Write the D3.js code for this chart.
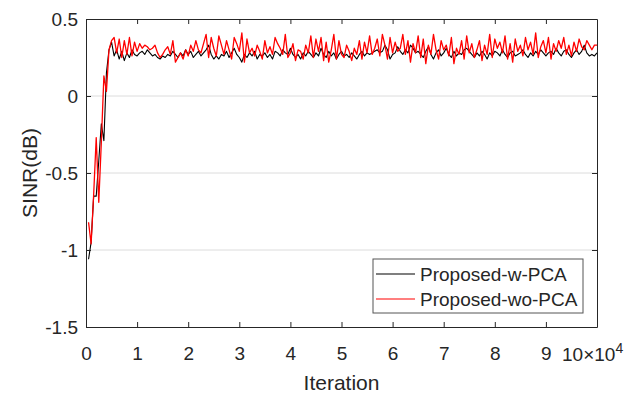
<!DOCTYPE html>
<html>
<head>
<meta charset="utf-8">
<script src="https://cdn.jsdelivr.net/npm/d3@7"></script>
<style>
  body { margin: 0; background: #fff; }
  svg text { font-family: "Liberation Sans", Arial, Helvetica, sans-serif; fill: #262626; }
</style>
</head>
<body>
<div id="chart"></div>
<script>
// sample spacing (iterations between points)
var iterStep = 500;

// SINR (dB) with PCA
var wPCA = [
    -1.06, -0.95, -0.65, -0.65, -0.42, -0.18, -0.29, 0.15, 0.30, 0.35, 0.26,
    0.30, 0.24, 0.29, 0.23, 0.28, 0.25, 0.30, 0.27, 0.26,
    0.28, 0.29, 0.27, 0.30, 0.28, 0.26, 0.27, 0.25, 0.24, 0.26,
    0.25, 0.27, 0.26, 0.29, 0.27, 0.25, 0.28, 0.26, 0.30, 0.27,
    0.29, 0.25, 0.27, 0.29, 0.26, 0.28, 0.30, 0.33, 0.27, 0.24,
    0.26, 0.24, 0.27, 0.26, 0.29, 0.25, 0.28, 0.31, 0.27, 0.25,
    0.22, 0.27, 0.25, 0.28, 0.26, 0.29, 0.24, 0.27, 0.26, 0.28,
    0.25, 0.27, 0.24, 0.29, 0.28, 0.26, 0.30, 0.28, 0.27, 0.31,
    0.27, 0.25, 0.27, 0.24, 0.28, 0.26, 0.29, 0.27, 0.25, 0.28,
    0.26, 0.31, 0.27, 0.25, 0.29, 0.26, 0.28, 0.24, 0.27, 0.29,
    0.26, 0.27, 0.25, 0.28, 0.26, 0.24, 0.27, 0.29, 0.26, 0.28,
    0.27, 0.28, 0.29, 0.30, 0.28, 0.29, 0.33, 0.30, 0.24, 0.27,
    0.28, 0.32, 0.29, 0.27, 0.30, 0.28, 0.33, 0.31, 0.28, 0.29,
    0.27, 0.25, 0.29, 0.32, 0.27, 0.24, 0.28, 0.30, 0.26, 0.28,
    0.31, 0.27, 0.25, 0.29, 0.26, 0.28, 0.27, 0.30, 0.31, 0.29,
    0.27, 0.25, 0.28, 0.26, 0.29, 0.27, 0.24, 0.28, 0.26, 0.29,
    0.28, 0.26, 0.30, 0.27, 0.25, 0.28, 0.29, 0.26, 0.27, 0.28,
    0.30, 0.27, 0.25, 0.28, 0.26, 0.29, 0.27, 0.30, 0.28, 0.26,
    0.28, 0.29, 0.27, 0.31, 0.28, 0.26, 0.29, 0.30, 0.27, 0.25,
    0.28, 0.30, 0.27, 0.29, 0.33, 0.28, 0.26, 0.27, 0.26, 0.28
];

// SINR (dB) without PCA
var woPCA = [
    -0.82, -0.96, -0.64, -0.27, -0.69, -0.30, 0.13, 0.03, 0.30, 0.36, 0.38,
    0.28, 0.37, 0.25, 0.36, 0.27, 0.38, 0.26, 0.35, 0.29,
    0.34, 0.31, 0.33, 0.32, 0.30, 0.31, 0.33, 0.28, 0.25, 0.27,
    0.30, 0.32, 0.27, 0.36, 0.22, 0.25, 0.28, 0.24, 0.30, 0.26,
    0.33, 0.29, 0.36, 0.30, 0.28, 0.34, 0.40, 0.25, 0.38, 0.31,
    0.26, 0.39, 0.33, 0.27, 0.36, 0.30, 0.24, 0.38, 0.34, 0.29,
    0.41, 0.22, 0.37, 0.28, 0.31, 0.26, 0.33, 0.29, 0.24, 0.36,
    0.28, 0.32, 0.27, 0.38, 0.34, 0.31, 0.27, 0.40, 0.25, 0.28,
    0.34, 0.23, 0.30, 0.29, 0.24, 0.33, 0.28, 0.39, 0.25, 0.37,
    0.29, 0.38, 0.23, 0.35, 0.22, 0.30, 0.40, 0.24, 0.36, 0.27,
    0.25, 0.33, 0.29, 0.23, 0.31, 0.27, 0.36, 0.24, 0.35, 0.28,
    0.39, 0.27, 0.31, 0.37, 0.26, 0.40, 0.33, 0.24, 0.38, 0.28,
    0.35, 0.29, 0.31, 0.40, 0.27, 0.36, 0.22, 0.34, 0.28, 0.39,
    0.25, 0.37, 0.21, 0.33, 0.27, 0.40, 0.30, 0.24, 0.36, 0.30,
    0.33, 0.26, 0.38, 0.21, 0.31, 0.27, 0.36, 0.24, 0.39, 0.28,
    0.34, 0.25, 0.30, 0.36, 0.23, 0.33, 0.27, 0.40, 0.25, 0.37,
    0.31, 0.35, 0.28, 0.39, 0.24, 0.34, 0.22, 0.37, 0.29, 0.33,
    0.26, 0.38, 0.30, 0.35, 0.27, 0.41, 0.25, 0.32, 0.36, 0.28,
    0.38, 0.24, 0.34, 0.29, 0.36, 0.31, 0.38, 0.27, 0.33, 0.26,
    0.35, 0.29, 0.37, 0.32, 0.30, 0.36, 0.33, 0.30, 0.33, 0.33
];

var xTicks = [0, 1, 2, 3, 4, 5, 6, 7, 8, 9];     // x 10^4
var yTicks = [-1.5, -1, -0.5, 0, 0.5];
var yGrid = [-1, -0.5, 0];
var seriesNames = ['Proposed-w-PCA', 'Proposed-wo-PCA'];
var seriesColors = ['#000000', '#ff0000'];

//---------------------------------------------------------------
function drawChart(){
    var width = 635, height = 396,
        margin = { top: 19, right: 38, bottom: 69, left: 86 };

    var svg = d3.select('#chart').append('svg')
        .attr('width', width)
        .attr('height', height);

    var x = d3.scaleLinear().domain([0, 10]).range([margin.left, width - margin.right]),
        y = d3.scaleLinear().domain([-1.5, 0.5]).range([height - margin.bottom, margin.top]);

    // grid
    svg.append('g').selectAll('line').data(yGrid).enter().append('line')
        .attr('x1', x(0)).attr('x2', x(10))
        .attr('y1', function(d){ return y(d); })
        .attr('y2', function(d){ return y(d); })
        .attr('stroke', '#dcdcdc').attr('stroke-width', 1);

    // lines
    var line = d3.line()
        .x(function(d, i){ return x((i + 1) * iterStep / 10000); })
        .y(function(d){ return y(d); });

    var plot = svg.append('g');
    [wPCA, woPCA].forEach(function(s, i){
        plot.append('path')
            .datum(s)
            .attr('d', line)
            .attr('fill', 'none')
            .attr('stroke', seriesColors[i])
            .attr('stroke-width', i === 0 ? 1.1 : 1.3)
            .attr('stroke-linejoin', 'round');
    });

    // axes (MATLAB style, ticks inward, box on)
    var axisColor = '#262626';
    var xb = svg.append('g').attr('transform', 'translate(0,' + y(-1.5) + ')')
        .call(d3.axisBottom(x).tickValues(xTicks).tickSizeInner(-5).tickSizeOuter(0).tickFormat(d3.format('d')));
    var xt = svg.append('g').attr('transform', 'translate(0,' + y(0.5) + ')')
        .call(d3.axisTop(x).tickValues(xTicks).tickSizeInner(-5).tickSizeOuter(0).tickFormat(''));
    var yl = svg.append('g').attr('transform', 'translate(' + x(0) + ',0)')
        .call(d3.axisLeft(y).tickValues(yTicks).tickSizeInner(-5).tickSizeOuter(0).tickFormat(function(d){ return d3.format('')(d).replace('−', '-'); }));
    var yr = svg.append('g').attr('transform', 'translate(' + x(10) + ',0)')
        .call(d3.axisRight(y).tickValues(yTicks).tickSizeInner(-5).tickSizeOuter(0).tickFormat(''));

    [xb, xt, yl, yr].forEach(function(g){
        g.select('.domain').attr('stroke', axisColor);
        g.selectAll('.tick line').attr('stroke', axisColor);
        g.selectAll('.tick text').attr('fill', axisColor).style('font-size', '19px')
            .style('font-family', '"Liberation Sans", Arial, sans-serif');
    });
    xb.selectAll('.tick text').attr('dy', null).attr('y', 33);
    yl.selectAll('.tick text').attr('x', -8).attr('dy', '0.35em');

    // exponent label
    var expo = svg.append('text')
        .attr('x', x(10) - 35).attr('y', 361)
        .style('font-size', '19px');
    expo.append('tspan').text('10\u00d710');
    expo.append('tspan').attr('dy', -8).style('font-size', '14px').text('4');

    // axis titles
    svg.append('text')
        .attr('x', (x(0) + x(10)) / 2).attr('y', 390)
        .attr('text-anchor', 'middle')
        .style('font-size', '21px')
        .text('Iteration');

    svg.append('text')
        .attr('transform', 'translate(37,' + y(-0.5) + ') rotate(-90)')
        .attr('text-anchor', 'middle')
        .style('font-size', '21px')
        .text('SINR(dB)');

    // legend
    var lg = svg.append('g').attr('transform', 'translate(373,259)');
    lg.append('rect')
        .attr('width', 210).attr('height', 54)
        .attr('fill', '#fff').attr('stroke', '#555').attr('stroke-width', 1);
    seriesNames.forEach(function(name, i){
        var row = lg.append('g').attr('transform', 'translate(0,' + (15 + i * 25) + ')');
        row.append('line')
            .attr('x1', 3).attr('x2', 42)
            .attr('stroke', seriesColors[i]).attr('stroke-width', 1.2);
        row.append('text')
            .attr('x', 47).attr('dy', '0.35em')
            .style('font-size', '19px')
            .text(name);
    });
}

drawChart();
</script>
</body>
</html>
